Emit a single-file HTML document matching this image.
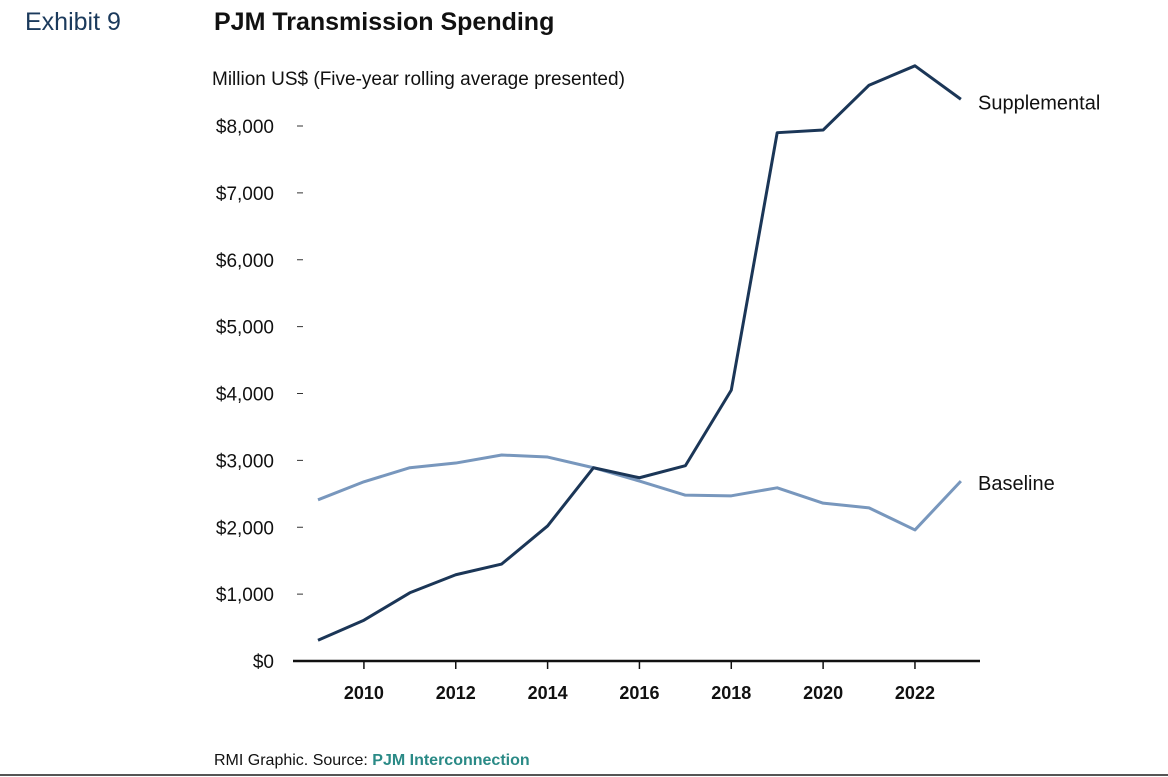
<!DOCTYPE html>
<html><head><meta charset="utf-8"><style>
body{margin:0;width:1168px;height:777px;background:#fff;overflow:hidden;font-family:"Liberation Sans",sans-serif}
svg{display:block}
</style></head><body>
<svg width="1168" height="777">
<text x="25" y="30" font-size="25" fill="#1b3a5c">Exhibit 9</text>
<text x="214" y="30" font-size="25" font-weight="bold" fill="#111">PJM Transmission Spending</text>
<text x="212" y="85" font-size="19" fill="#111">Million US$ (Five-year rolling average presented)</text>
<g id="yaxis"></g><g id="xaxis"></g><g id="lines"></g>
<text x="214" y="765" font-size="16" fill="#111">RMI Graphic. Source: <tspan fill="#2a8a86" font-weight="bold">PJM Interconnection</tspan></text>
<line x1="0" y1="775" x2="1168" y2="775" stroke="#555" stroke-width="2"/>
</svg>
<script>
const years=[2009,2010,2011,2012,2013,2014,2015,2016,2017,2018,2019,2020,2021,2022,2023];
const supplemental=[310,610,1020,1290,1450,2020,2890,2740,2920,4050,7900,7940,8610,8900,8400];
const baseline=[2410,2680,2890,2960,3080,3050,2890,2690,2480,2470,2590,2360,2290,1960,2690];
const yTicks=[0,1000,2000,3000,4000,5000,6000,7000,8000];
const yTickLabels=["$0","$1,000","$2,000","$3,000","$4,000","$5,000","$6,000","$7,000","$8,000"];
const xTicks=[2010,2012,2014,2016,2018,2020,2022];
const NS="http://www.w3.org/2000/svg";
const x=v=>318+(v-2009)*45.92;
const y=v=>661-v*0.066875;
function mk(p,t,a){const e=document.createElementNS(NS,t);for(const k in a)e.setAttribute(k,a[k]);p.appendChild(e);return e;}
const ya=document.getElementById('yaxis'),xa=document.getElementById('xaxis'),lg=document.getElementById('lines');
yTicks.forEach((v,i)=>{
 const t=mk(ya,'text',{x:274,y:y(v)+7,'font-size':19,'text-anchor':'end',fill:'#111'});t.textContent=yTickLabels[i];
 
 
 if(v>0){const l=mk(ya,'line',{x1:297,x2:303,y1:y(v),y2:y(v),stroke:'#333','stroke-width':1});
 
 }
});
const ax=mk(xa,'line',{x1:293,x2:980,y1:661,y2:661,stroke:'#111','stroke-width':2.5});


xTicks.forEach(v=>{
 const l=mk(xa,'line',{x1:x(v),x2:x(v),y1:661,y2:669,stroke:'#111','stroke-width':1.5});
 
 
 const t=mk(xa,'text',{x:x(v),y:699,'font-size':18,'font-weight':'bold','text-anchor':'middle',fill:'#111'});t.textContent=v;
 
 
});
function line(data,color,name){
 const p=mk(lg,'polyline',{points:data.map((v,i)=>x(years[i])+','+y(v)).join(' '),fill:'none',stroke:color,'stroke-width':3,'stroke-linejoin':'round'});
 
 
}
line(baseline,'#7897bd','baseline-line');
line(supplemental,'#1b3657','supplemental-line');
const l1=mk(lg,'text',{x:978,y:y(supplemental[14])+10,'font-size':20,fill:'#111'});l1.textContent='Supplemental';


const l2=mk(lg,'text',{x:978,y:490,'font-size':20,fill:'#111'});l2.textContent='Baseline';


</script>
</body></html>
